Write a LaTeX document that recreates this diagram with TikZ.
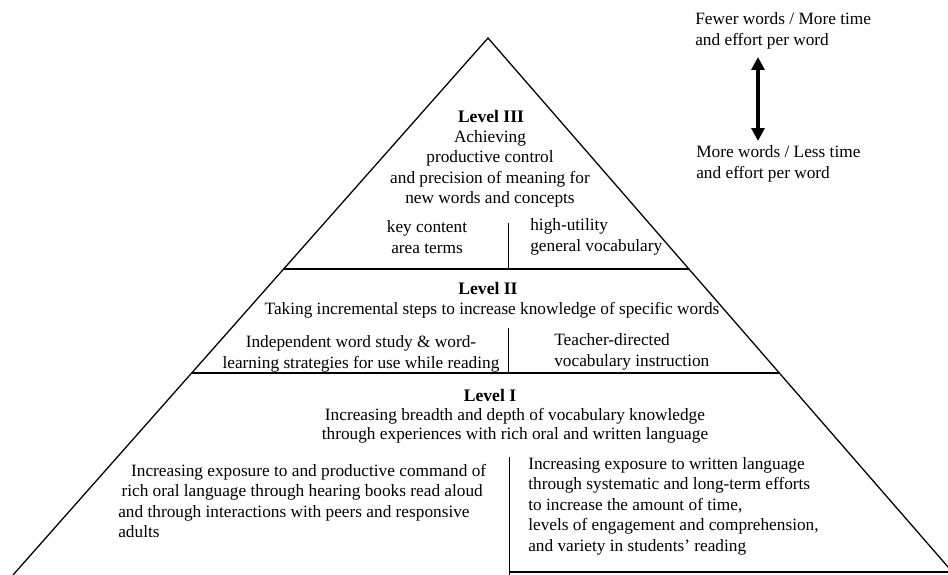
\documentclass[tikz,border=0pt]{standalone}
\usepackage{fontspec}
\setmainfont{Liberation Serif}
\usetikzlibrary{arrows.meta, calc, positioning}

\begin{document}
\begin{tikzpicture}[x=0.625pt, y=-0.625pt, >=Stealth,
    txt/.style={inner sep=0pt, font=\fontsize{10.8}{12.8}\selectfont},
    lvl/.style={inner sep=0pt, font=\fontsize{11}{13}\selectfont\bfseries}]
    \clip (0,0) rectangle (948,575);

    % pyramid outline and level dividers
    \coordinate (top) at (488,38);
    \coordinate (bl) at (13,575);
    \coordinate (br) at (955,575);
    \draw[thick] (bl) -- (top) -- (br);
    \draw[thick] ($(top)!0.430!(bl)$) -- ($(top)!0.430!(br)$);
    \draw[thick] ($(top)!0.624!(bl)$) -- ($(top)!0.624!(br)$);
    \draw[thick] (509,572) -- (948,572);
    \draw (508,223) -- (508,269);
    \draw (508,328) -- (508,373);
    \draw (509,457) -- (509,575);

    % Level III
    \node[lvl] (l3) at (491,116) {Level III};
    \node[txt, align=center] (l3txt) at (490,169)
        {Achieving\\productive control\\and precision of meaning for\\new words and concepts};
    \node[txt, align=center] (l3a) at (427,237) {key content\\area terms};
    \node[txt, align=left, anchor=west] (l3b) at (530,237) {high-utility\\general vocabulary};

    % Level II
    \node[lvl] (l2) at (488,288) {Level II};
    \node[txt] (l2txt) at (492,310) {Taking incremental steps to increase knowledge of specific words};
    \node[txt, align=center] (l2a) at (361,354)
        {Independent word study \& word-\\learning strategies for use while reading};
    \node[txt, align=left, anchor=west] (l2b) at (554,352) {Teacher-directed\\vocabulary instruction};

    % Level I
    \node[lvl] (l1) at (490,395) {Level I};
    \node[txt, align=center, font=\fontsize{10.8}{11.6}\selectfont] (l1txt) at (515,426)
        {Increasing breadth and depth of vocabulary knowledge\\through experiences with rich oral and written language};
    \node[txt, align=left, anchor=west] (l1a) at (118,501)
        {\hspace*{8pt}Increasing exposure to and productive command of\\
         \hspace*{2pt}rich oral language through hearing books read aloud\\
         and through interactions with peers and responsive\\adults};
    \node[txt, align=left, anchor=west] (l1b) at (528,506)
        {Increasing exposure to written language\\through systematic and long-term efforts\\
         to increase the amount of time,\\levels of engagement and comprehension,\\
         and variety in students' reading};

    % effort scale
    \node[txt, align=left, anchor=west] (fewer) at (695,31) {Fewer words / More time\\and effort per word};
    \node[txt, align=left, anchor=west] (more) at (696,164) {More words / Less time\\and effort per word};
    \coordinate (up) at (758,57);
    \coordinate (down) at (758,141);
    \draw[{Triangle[length=8pt, width=8pt]}-{Triangle[length=8pt, width=8pt]}, line width=2pt] (up) -- (down);
\end{tikzpicture}
\end{document}
